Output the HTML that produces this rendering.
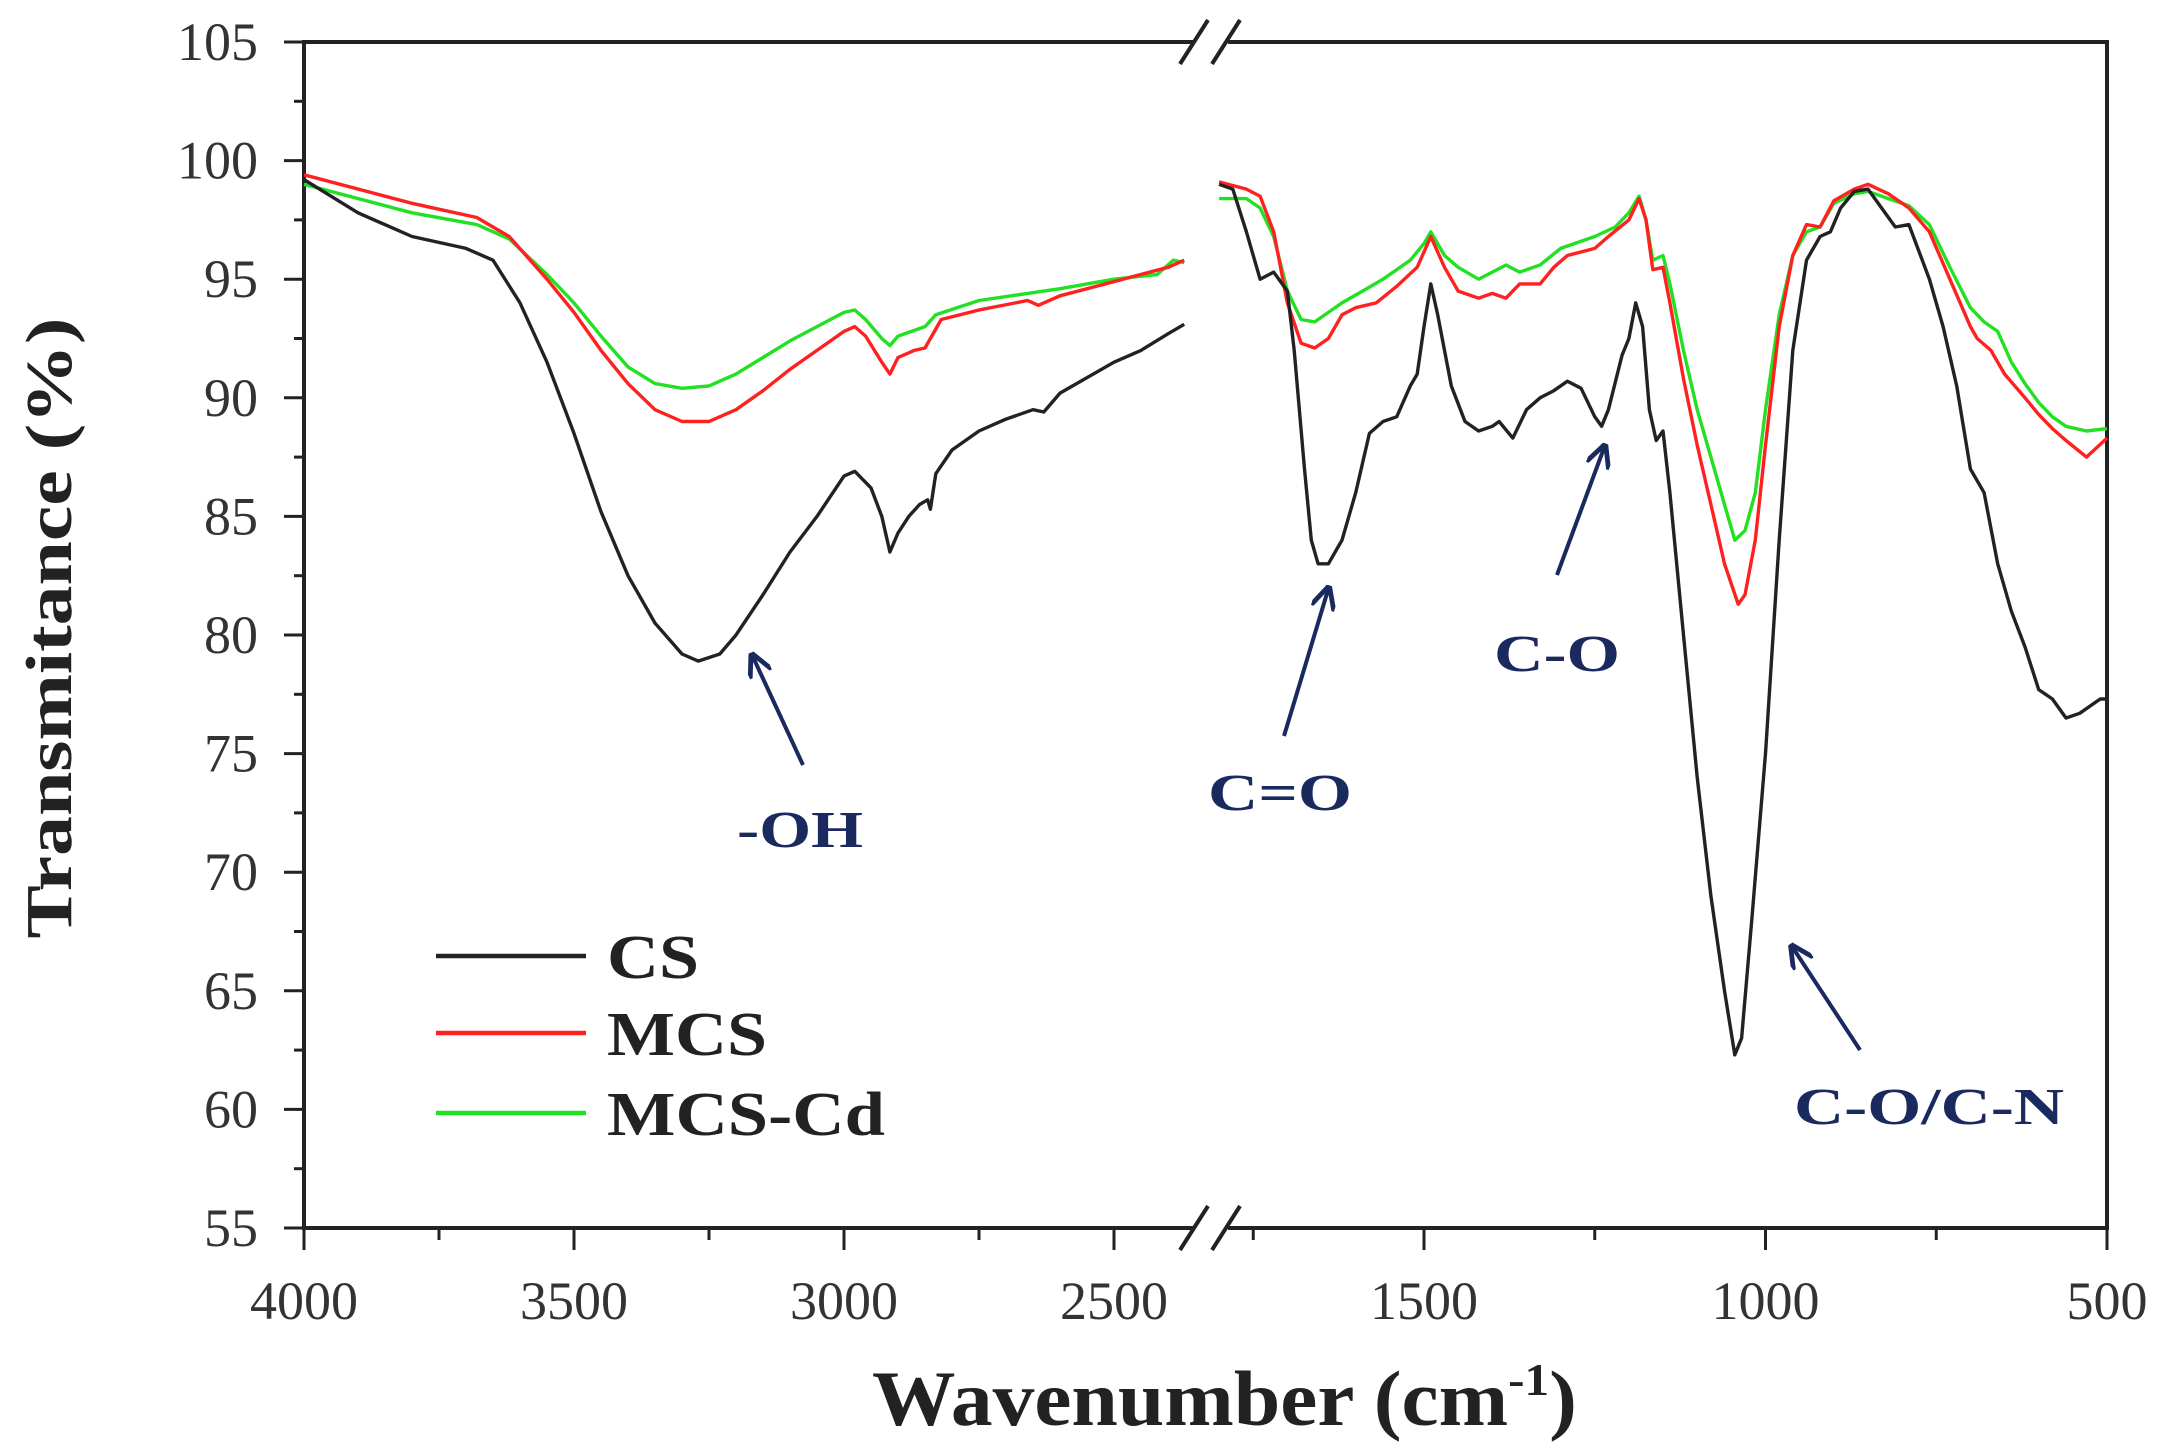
<!DOCTYPE html>
<html><head><meta charset="utf-8"><style>
html,body{margin:0;padding:0;background:#fff;}
svg{display:block;}
text{font-family:"Liberation Serif",serif;}
</style></head><body>
<svg id="s" width="2178" height="1447" viewBox="0 0 2178 1447" xmlns="http://www.w3.org/2000/svg">
<g id="ax" stroke="#222" stroke-width="4" fill="none">
<line x1="304" y1="42" x2="2107" y2="42"/>
<line x1="304" y1="1228" x2="2107" y2="1228"/>
<line x1="304" y1="40" x2="304" y2="1230"/>
<line x1="2107" y1="40" x2="2107" y2="1230"/>
</g>
<g stroke="#222" stroke-width="4">
<rect x="1194" y="30" width="34" height="24" fill="#fff" stroke="none"/>
<rect x="1194" y="1216" width="34" height="24" fill="#fff" stroke="none"/>
<line x1="1180" y1="64" x2="1208" y2="20"/><line x1="1212" y1="64" x2="1240" y2="20"/>
<line x1="1180" y1="1250" x2="1208" y2="1206"/><line x1="1212" y1="1250" x2="1240" y2="1206"/>
</g>
<g id="ticks" stroke="#222" stroke-width="3"></g>
<g id="labels" font-size="54" fill="#333"></g>
<g id="series" fill="none" stroke-width="3.4" stroke-linejoin="round"></g>
<text x="56" y="628" font-size="66" font-weight="bold" fill="#222" text-anchor="middle" transform="rotate(-90 56 628)" dominant-baseline="middle" textLength="621" lengthAdjust="spacingAndGlyphs">Transmitance (%)</text>
<text x="872" y="1425" font-size="78" font-weight="bold" fill="#222" textLength="705" lengthAdjust="spacingAndGlyphs">Wavenumber (cm<tspan font-size="46" dy="-30">-1</tspan><tspan dy="30">)</tspan></text>
<g stroke-width="4.5">
<line x1="436" y1="956" x2="586" y2="956" stroke="#222"/>
<line x1="436" y1="1033" x2="586" y2="1033" stroke="#ff2020"/>
<line x1="436" y1="1113" x2="586" y2="1113" stroke="#22e022"/>
</g>
<g font-size="62" font-weight="bold" fill="#222">
<text x="607" y="978" textLength="92" lengthAdjust="spacingAndGlyphs">CS</text>
<text x="607" y="1055" textLength="160" lengthAdjust="spacingAndGlyphs">MCS</text>
<text x="607" y="1135" textLength="278" lengthAdjust="spacingAndGlyphs">MCS-Cd</text>
</g>
<defs><marker id="ah" viewBox="0 0 10 10" refX="8" refY="5" markerWidth="6" markerHeight="6" orient="auto"><path d="M0,0 L10,5 L0,10" fill="none" stroke="#1a2a5e" stroke-width="2"/></marker></defs>
<g stroke="#1a2a5e" stroke-width="4" marker-end="url(#ah)">
<line x1="803" y1="765" x2="753" y2="657"/>
<line x1="1284" y1="736" x2="1328" y2="590"/>
<line x1="1557" y1="575" x2="1604" y2="448"/>
<line x1="1860" y1="1050" x2="1793" y2="948"/>
</g>
<g font-size="52" font-weight="bold" fill="#1a2a5e">
<text x="737" y="847" textLength="126" lengthAdjust="spacingAndGlyphs">-OH</text>
<text x="1208" y="810" textLength="144" lengthAdjust="spacingAndGlyphs">C=O</text>
<text x="1494" y="671" textLength="126" lengthAdjust="spacingAndGlyphs">C-O</text>
<text x="1794" y="1124" textLength="270" lengthAdjust="spacingAndGlyphs">C-O/C-N</text>
</g>
</svg>
<script>
const NS="http://www.w3.org/2000/svg";
const Y=v=>42+(105-v)*23.72;
const XL=w=>304+(4000-w)*0.54;
const XR=w=>1424+(1500-w)*0.683;
function el(p,t,a,txt){const e=document.createElementNS(NS,t);for(const k in a)e.setAttribute(k,a[k]);if(txt!==undefined)e.textContent=txt;document.getElementById(p).appendChild(e);return e;}
for(let v=55;v<=105;v+=2.5){const maj=(v%5===0);el("ticks","line",{x1:304,x2:maj?284:294,y1:Y(v),y2:Y(v)});
 if(maj)el("labels","text",{x:258,y:Y(v)+18,"text-anchor":"end"},String(v));}
[[4000,1],[3750,0],[3500,1],[3250,0],[3000,1],[2750,0],[2500,1]].forEach(([w,m])=>{el("ticks","line",{x1:XL(w),x2:XL(w),y1:1228,y2:m?1250:1240});if(m)el("labels","text",{x:XL(w),y:1319,"text-anchor":"middle"},String(w));});
[[1750,0],[1500,1],[1250,0],[1000,1],[750,0],[500,1]].forEach(([w,m])=>{el("ticks","line",{x1:XR(w),x2:XR(w),y1:1228,y2:m?1250:1240});if(m)el("labels","text",{x:XR(w),y:1319,"text-anchor":"middle"},String(w));});
const D={
csL:[4000,99.2,3900,97.8,3800,96.8,3700,96.3,3650,95.8,3600,94,3550,91.5,3500,88.5,3450,85.2,3400,82.5,3350,80.5,3300,79.2,3270,78.9,3230,79.2,3200,80,3150,81.7,3100,83.5,3050,85,3000,86.7,2980,86.9,2950,86.2,2930,85,2915,83.5,2900,84.3,2880,85,2860,85.5,2845,85.7,2840,85.3,2830,86.8,2800,87.8,2750,88.6,2700,89.1,2650,89.5,2630,89.4,2600,90.2,2500,91.5,2450,92,2400,92.7,2370,93.1],
mL:[4000,99.4,3800,98.2,3680,97.6,3620,96.8,3550,95,3500,93.6,3450,92,3400,90.6,3350,89.5,3300,89,3250,89,3200,89.5,3150,90.3,3100,91.2,3050,92,3000,92.8,2980,93,2960,92.6,2930,91.5,2915,91,2900,91.7,2870,92,2850,92.1,2840,92.5,2820,93.3,2750,93.7,2660,94.1,2640,93.9,2600,94.3,2500,94.9,2400,95.5,2370,95.8],
gL:[4000,99.0,3800,97.8,3680,97.3,3620,96.7,3550,95.2,3500,94,3450,92.6,3400,91.3,3350,90.6,3300,90.4,3250,90.5,3200,91,3150,91.7,3100,92.4,3050,93,3000,93.6,2980,93.7,2960,93.3,2930,92.5,2915,92.2,2900,92.6,2850,93,2830,93.5,2750,94.1,2660,94.4,2600,94.6,2500,95.0,2420,95.2,2390,95.8,2370,95.7],
csR:[1800,99,1780,98.8,1760,97,1740,95,1720,95.3,1700,94.5,1690,92,1675,87,1665,84,1655,83,1640,83,1620,84,1600,86,1580,88.5,1560,89,1540,89.2,1520,90.5,1510,91,1500,93,1490,94.8,1480,93.5,1460,90.5,1440,89,1420,88.6,1400,88.8,1390,89,1370,88.3,1350,89.5,1330,90,1310,90.3,1290,90.7,1270,90.4,1250,89.2,1240,88.8,1230,89.5,1210,91.8,1200,92.5,1190,94,1180,93,1170,89.5,1160,88.2,1150,88.6,1140,86,1120,80,1100,74,1080,69,1060,65,1045,62.3,1035,63,1020,68,1000,75,980,84,960,92,940,95.8,920,96.8,905,97,890,98,870,98.7,850,98.8,830,98,810,97.2,790,97.3,760,95,740,93,720,90.5,700,87,680,86,660,83,640,81,620,79.5,600,77.7,580,77.3,560,76.5,540,76.7,510,77.3,500,77.3],
mR:[1800,99.1,1760,98.8,1740,98.5,1720,97,1700,94,1680,92.3,1660,92.1,1640,92.5,1620,93.5,1600,93.8,1570,94,1540,94.7,1510,95.5,1490,96.8,1470,95.5,1450,94.5,1420,94.2,1400,94.4,1380,94.2,1360,94.8,1330,94.8,1310,95.5,1290,96,1250,96.3,1230,96.8,1200,97.5,1185,98.4,1175,97.5,1165,95.4,1150,95.5,1140,94,1120,90.8,1100,88,1080,85.5,1060,83,1040,81.3,1030,81.7,1015,84,1000,88,980,93,960,96,940,97.3,920,97.2,900,98.3,870,98.8,850,99,820,98.6,790,98,760,97,730,95,700,93,690,92.5,670,92,650,91,620,90,600,89.3,580,88.7,560,88.2,530,87.5,500,88.3],
gR:[1800,98.4,1760,98.4,1740,98,1720,96.8,1700,94.5,1680,93.3,1660,93.2,1640,93.6,1620,94,1590,94.5,1560,95,1520,95.8,1500,96.5,1490,97,1470,96,1450,95.5,1420,95,1400,95.3,1380,95.6,1360,95.3,1330,95.6,1300,96.3,1250,96.8,1220,97.2,1200,97.8,1185,98.5,1175,97.5,1165,95.8,1150,96,1140,94.8,1120,92,1100,89.5,1080,87.5,1060,85.5,1045,84,1030,84.4,1015,86,1000,89.5,980,93.5,960,96,940,97,920,97.2,900,98.2,870,98.6,850,98.7,820,98.4,790,98.1,760,97.3,730,95.5,700,93.8,680,93.2,660,92.8,640,91.5,620,90.6,600,89.8,580,89.2,560,88.8,530,88.6,500,88.7]};
function path(a,X,c){let d="";for(let i=0;i<a.length;i+=2)d+=(i?"L":"M")+X(a[i]).toFixed(1)+","+Y(a[i+1]).toFixed(1);el("series","path",{d:d,stroke:c});}
path(D.gL,XL,"#22e022");path(D.mL,XL,"#ff2020");path(D.csL,XL,"#222");
path(D.gR,XR,"#22e022");path(D.mR,XR,"#ff2020");path(D.csR,XR,"#222");
</script>
</body></html>
